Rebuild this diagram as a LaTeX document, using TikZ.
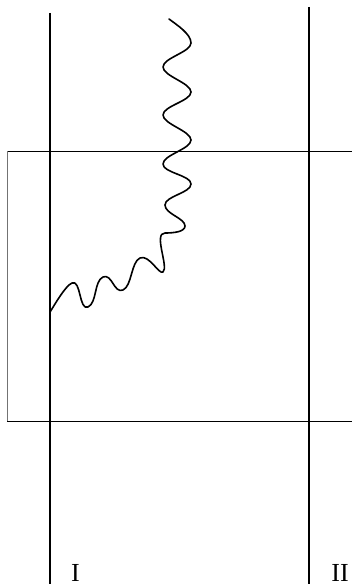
\documentclass[tikz,border=0pt]{standalone}
\usepackage{fontspec}
\setmainfont{Liberation Serif}
\begin{document}
\begin{tikzpicture}[x=1pt,y=-1pt,
  worldline/.style={line width=2pt,black},
  boxline/.style={line width=1pt,black},
  boxedge/.style={line width=1pt,black!55},
  photon/.style={line width=1.6pt,black,line cap=round,line join=round},
  lbl/.style={anchor=base,inner sep=0pt,font=\fontsize{26}{28}\selectfont}]
\useasboundingbox (0,0) rectangle (352,586);
% box (right edge lies outside the picture)
\coordinate (bTR) at (352,151);
\coordinate (bTL) at (7,151);
\coordinate (bBL) at (7,421);
\coordinate (bBR) at (352,421);
\draw[boxline] (bTL) -- (bTR);
\draw[boxline] (bBL) -- (bBR);
\draw[boxedge] (bTL) -- (bBL);
% world lines
\coordinate (Itop) at (50,13);
\coordinate (Ibot) at (50,584);
\coordinate (IItop) at (309,7);
\coordinate (IIbot) at (309,584);
\draw[worldline] (Itop) -- (Ibot);
\draw[worldline] (IItop) -- (IIbot);
% labels
\node[lbl] (labI) at (75.5,581) {I};
\node[lbl] (labII) at (340,581) {II};
% photon
\coordinate (ps) at (169,19);
\coordinate (pe) at (50,312);
\draw[photon] (ps)
  .. controls +(8,6) and +(0,-9) .. (191,43)
  .. controls +(0,9) and +(0,-9) .. (163,67)
  .. controls +(0,9) and +(0,-9) .. (191,92)
  .. controls +(0,9) and +(0,-9) .. (163,115)
  .. controls +(0,9) and +(0,-9) .. (191,140)
  .. controls +(0,9) and +(0,-9) .. (163,164)
  .. controls +(0,9) and +(0,-9) .. (191,184)
  .. controls +(0,9) and +(0,-9) .. (165,205)
  .. controls +(0,9) and +(0,-8) .. (185,226)
  .. controls +(0,6) and +(8,0) .. (165,233)
  .. controls +(-12,0) and +(6,-5) .. (163,272)
  .. controls +(-4,3) and +(9,-4) .. (140,258)
  .. controls +(-9,4) and +(9,-4) .. (123,290)
  .. controls +(-9,4) and +(9,-4) .. (103,277)
  .. controls +(-9,4) and +(9,-4) .. (88,307)
  .. controls +(-9,4) and +(9,-4) .. (72,283)
  .. controls +(-7,3) and +(4,-6) .. (pe);
\end{tikzpicture}
\end{document}
